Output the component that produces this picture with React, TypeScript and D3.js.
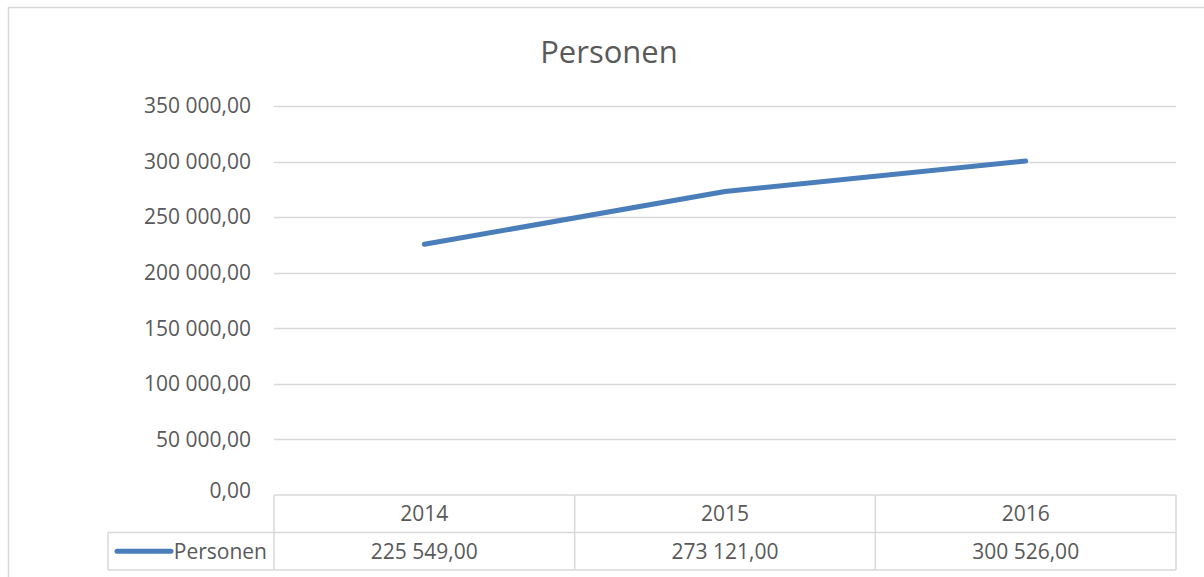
import React, { useEffect, useRef } from "react";
import * as d3 from "d3";

const years = ["2014", "2015", "2016"];
const personen = [225549, 273121, 300526];
const yTicks = [0, 50000, 100000, 150000, 200000, 250000, 300000, 350000];
const seriesName = "Personen";
const title = "Personen";

const App = () => {
  const ref = useRef<SVGSVGElement>(null);

  useEffect(() => {
    const width = 1204,
      height = 577,
      left = 274,
      right = 1176,
      top = 106,
      bottom = 495,
      rowH = 37.5,
      legendLeft = 108,
      textColor = "#595959",
      gridColor = "#d9d9d9",
      font = "'Open Sans', sans-serif";

    const locale = d3.formatLocale({
      decimal: ",",
      thousands: " ",
      grouping: [3],
      currency: ["", ""],
    });
    const fmt = locale.format(",.2f");

    const x = d3.scaleBand().domain(years).range([left, right]).padding(0);
    const y = d3.scaleLinear().domain([0, 350000]).range([bottom, top]);

    const svg = d3.select(ref.current);
    svg.selectAll("*").remove();
    svg.attr("width", width).attr("height", height);

    svg
      .append("rect")
      .attr("x", 8.5)
      .attr("y", 7.5)
      .attr("width", width + 10)
      .attr("height", height + 10)
      .attr("fill", "#fff")
      .attr("stroke", gridColor)
      .attr("stroke-width", 1.5);

    // title sits centred over the whole chart box, not the plot
    svg
      .append("text")
      .attr("x", 609)
      .attr("y", 63)
      .attr("text-anchor", "middle")
      .attr("font-family", font)
      .attr("font-size", 31)
      .attr("fill", textColor)
      .text(title);

    // gridlines + y labels
    svg
      .append("g")
      .selectAll("line")
      .data(yTicks.filter(d => d > 0))
      .enter()
      .append("line")
      .attr("x1", left)
      .attr("x2", right)
      .attr("y1", d => Math.round(y(d)) + 0.5)
      .attr("y2", d => Math.round(y(d)) + 0.5)
      .attr("stroke", gridColor)
      .attr("stroke-width", 1.3);

    svg
      .append("g")
      .selectAll("text")
      .data(yTicks)
      .enter()
      .append("text")
      .attr("x", 251)
      .attr("y", d => y(d) - (d === 0 ? 4 : 0))
      .attr("dy", "0.35em")
      .attr("text-anchor", "end")
      .attr("font-family", font)
      .attr("font-size", 21)
      .attr("fill", textColor)
      .text(d => fmt(d));

    // data table
    const table = svg.append("g").attr("fill", "none").attr("stroke", gridColor).attr("stroke-width", 1.5);
    table.append("line").attr("x1", left).attr("x2", right).attr("y1", bottom).attr("y2", bottom);
    table.append("line").attr("x1", legendLeft).attr("x2", right).attr("y1", bottom + rowH).attr("y2", bottom + rowH);
    table.append("line").attr("x1", legendLeft).attr("x2", right).attr("y1", bottom + 2 * rowH).attr("y2", bottom + 2 * rowH);
    table
      .selectAll("line.div")
      .data([...years.map(d => x(d) as number), right])
      .enter()
      .append("line")
      .attr("class", "div")
      .attr("x1", d => d)
      .attr("x2", d => d)
      .attr("y1", bottom)
      .attr("y2", bottom + 2 * rowH);
    table
      .append("line")
      .attr("x1", legendLeft)
      .attr("x2", legendLeft)
      .attr("y1", bottom + rowH)
      .attr("y2", bottom + 2 * rowH);

    svg
      .append("g")
      .selectAll("text")
      .data(years)
      .enter()
      .append("text")
      .attr("x", d => (x(d) as number) + x.bandwidth() / 2)
      .attr("y", bottom + rowH / 2)
      .attr("dy", "0.35em")
      .attr("text-anchor", "middle")
      .attr("font-family", font)
      .attr("font-size", 21)
      .attr("fill", textColor)
      .text(d => d);

    svg
      .append("g")
      .selectAll("text")
      .data(personen)
      .enter()
      .append("text")
      .attr("x", (d, i) => (x(years[i]) as number) + x.bandwidth() / 2)
      .attr("y", bottom + rowH * 1.5)
      .attr("dy", "0.35em")
      .attr("text-anchor", "middle")
      .attr("font-family", font)
      .attr("font-size", 21)
      .attr("fill", textColor)
      .text(d => fmt(d));

    // legend key
    svg
      .append("line")
      .attr("x1", 117)
      .attr("x2", 171)
      .attr("y1", bottom + rowH * 1.5)
      .attr("y2", bottom + rowH * 1.5)
      .attr("stroke", "#4a7ebb")
      .attr("stroke-width", 5)
      .attr("stroke-linecap", "round");
    svg
      .append("text")
      .attr("x", 267)
      .attr("y", bottom + rowH * 1.5)
      .attr("dy", "0.35em")
      .attr("text-anchor", "end")
      .attr("font-family", font)
      .attr("font-size", 21)
      .attr("fill", textColor)
      .text(seriesName);

    // line
    const line = d3
      .line<number>()
      .x((d, i) => (x(years[i]) as number) + x.bandwidth() / 2)
      .y(d => y(d));
    svg
      .append("path")
      .datum(personen)
      .attr("d", line)
      .attr("fill", "none")
      .attr("stroke", "#4a7ebb")
      .attr("stroke-width", 5)
      .attr("stroke-linecap", "round")
      .attr("stroke-linejoin", "round");
  }, []);

  return (
    <div style={{ position: "absolute", left: 0, top: 0 }}>
      <svg ref={ref} style={{ display: "block" }}></svg>
    </div>
  );
};

export default App;
